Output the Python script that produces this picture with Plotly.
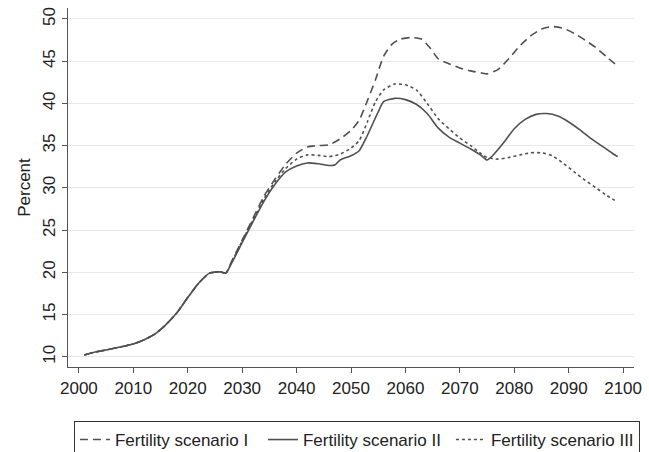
import plotly.graph_objects as go

# Shared history (all scenarios identical until ~2027)
common_years = [2001, 2003, 2005, 2008, 2010, 2012, 2014, 2016, 2018, 2020, 2022, 2024, 2026, 2027]
common_vals = [10.2, 10.55, 10.8, 11.2, 11.5, 12.0, 12.7, 13.8, 15.2, 17.0, 18.7, 19.9, 20.05, 19.9]

years_I = [2028, 2030, 2032, 2034, 2036, 2038, 2040, 2042, 2044, 2046, 2048, 2050, 2051.5, 2053, 2054.5,
           2056, 2057.5, 2059, 2061, 2063, 2064.5, 2066, 2068, 2070, 2072, 2074, 2075, 2077, 2079, 2081,
           2083, 2085, 2087, 2089, 2091, 2093, 2095, 2097, 2099]
vals_I = [21.2, 23.8, 26.4, 29.0, 31.0, 32.8, 34.1, 34.85, 35.0, 35.1, 35.8, 36.8, 38.0, 40.3, 42.8,
          45.6, 47.0, 47.6, 47.8, 47.6, 46.6, 45.3, 44.7, 44.2, 43.85, 43.6, 43.5, 44.0, 45.3, 46.8,
          48.0, 48.8, 49.1, 48.9, 48.3, 47.5, 46.6, 45.5, 44.4]

years_II = [2028, 2030, 2032, 2034, 2036, 2038, 2040, 2042, 2044, 2046, 2047, 2048, 2050, 2051.5, 2053,
            2055, 2056, 2058, 2060, 2062, 2064, 2066, 2068, 2070, 2072, 2074, 2075, 2076, 2078, 2080,
            2082, 2084, 2086, 2088, 2090, 2092, 2094, 2096, 2098, 2099]
vals_II = [21.0, 23.5, 26.0, 28.4, 30.4, 31.9, 32.6, 32.95, 32.85, 32.65, 32.7, 33.3, 33.8, 34.4, 36.2,
           39.0, 40.2, 40.6, 40.45, 39.9, 38.8, 37.1, 36.0, 35.3, 34.6, 33.8, 33.3, 33.8, 35.3, 37.0,
           38.1, 38.7, 38.8, 38.5, 37.8, 36.9, 35.9, 35.0, 34.1, 33.7]

years_III = [2028, 2030, 2032, 2034, 2036, 2038, 2040, 2042, 2044, 2046, 2048, 2050, 2051.5, 2053, 2054.5,
             2056, 2058, 2060, 2062, 2064, 2066, 2068, 2070, 2072, 2074, 2075, 2077, 2079, 2081, 2083,
             2085, 2087, 2089, 2091, 2093, 2095, 2097, 2099]
vals_III = [21.1, 23.7, 26.2, 28.7, 30.7, 32.3, 33.4, 33.9, 33.85, 33.7, 34.0, 34.7, 35.6, 37.8, 40.2,
            41.6, 42.3, 42.2, 41.6, 40.0, 38.2, 37.0, 35.9, 35.0, 34.0, 33.6, 33.4, 33.6, 33.9, 34.15,
            34.15, 33.8, 32.9, 31.9, 30.9, 30.0, 29.1, 28.3]

x_ticks = [2000, 2010, 2020, 2030, 2040, 2050, 2060, 2070, 2080, 2090, 2100]
y_ticks = [10, 15, 20, 25, 30, 35, 40, 45, 50]

names = ["Fertility scenario I", "Fertility scenario II", "Fertility scenario III"]

FONT = "Liberation Sans, Arial, sans-serif"
LINE = "#505050"

fig = go.Figure()
series = [
    (names[0], years_I, vals_I, "8px,5px"),
    (names[1], years_II, vals_II, "solid"),
    (names[2], years_III, vals_III, "3px,3px"),
]
for name, yrs, vals, dash in series:
    fig.add_trace(go.Scatter(
        x=common_years + yrs, y=common_vals + vals, mode="lines", name=name,
        line=dict(color=LINE, width=1.6, dash=dash, shape="spline", smoothing=0.6),
    ))

fig.update_layout(
    width=649, height=452,
    margin=dict(l=68, r=8, t=7, b=85),
    paper_bgcolor="white", plot_bgcolor="white",
    font=dict(family=FONT, size=17, color="#222"),
    showlegend=True,
    legend=dict(
        orientation="h", xref="paper", x=0.0105, xanchor="left",
        yref="container", y=1 - 421 / 452, yanchor="top",
        bordercolor="#333", borderwidth=1, font=dict(size=17, color="#222"),
        itemwidth=30, entrywidth=143, entrywidthmode="pixels",
    ),
    xaxis=dict(
        range=[1998, 2102], tickvals=x_ticks, showgrid=False, zeroline=False,
        showline=True, linecolor="#555", linewidth=1.2,
        ticks="outside", ticklen=5, tickcolor="#555", tickfont=dict(size=17),
    ),
    yaxis=dict(
        range=[8.78, 51.3], tickvals=y_ticks, showgrid=True, gridcolor="#e8e8e8", gridwidth=1.3,
        zeroline=False, showline=True, linecolor="#555", linewidth=1.2,
        ticks="outside", ticklen=5, tickcolor="#555", tickangle=-90, tickfont=dict(size=17),
        title=dict(text="Percent", font=dict(size=17), standoff=5),
    ),
)

fig.write_html("out.html", config={"displayModeBar": False})
with open("out.html", encoding="utf-8") as f:
    html = f.read()
html = html.replace("<body>", '<body style="margin:0;padding:0;overflow:hidden">', 1)
with open("out.html", "w", encoding="utf-8") as f:
    f.write(html)
